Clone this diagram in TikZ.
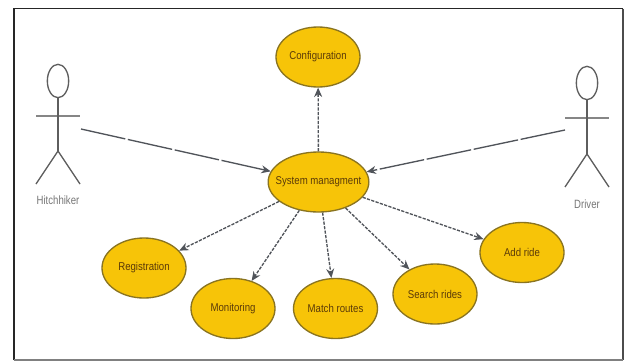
\documentclass[tikz,border=0pt]{standalone}
\usepackage{fontspec}
\setmainfont{Liberation Sans}
\newfontfamily\ucfont[FakeStretch=0.85]{Liberation Sans}
\newfontfamily\actfont[FakeStretch=0.8]{Liberation Sans}
\usetikzlibrary{shapes.geometric,arrows.meta}
\definecolor{ucfill}{HTML}{F7C408}
\definecolor{ucedge}{HTML}{8A7420}
\definecolor{uctext}{HTML}{5A3A08}
\definecolor{lineg}{HTML}{50545A}
\definecolor{actorg}{HTML}{5E5E5E}
\definecolor{labelg}{HTML}{777777}
\newcommand{\uclabel}[1]{\makebox[0pt]{#1}}
\tikzset{
  x=0.75pt,y=-0.75pt,
  usecase/.style={ellipse,draw=ucedge,fill=ucfill,line width=1pt,inner sep=0pt,
    minimum width=63pt,minimum height=45pt,text=uctext,
    font=\ucfont\fontsize{8.5pt}{10pt}\selectfont},
  actorline/.style={draw=actorg,line width=1pt},
  actorarm/.style={draw=actorg!75,line width=2.2pt},
  actorlabel/.style={text=labelg,inner sep=0pt,font=\actfont\fontsize{9pt}{10pt}\selectfont},
  assoc/.style={draw=lineg,line width=1pt,dash pattern=on 34pt off 2pt,-{Stealth[length=7pt,width=6pt]}},
  incl/.style={draw=lineg,line width=1pt,dash pattern=on 2.4pt off 1pt,-{Stealth[length=7pt,width=6pt]}}
}
\begin{document}
\begin{tikzpicture}
\useasboundingbox (0,0) rectangle (624,361);
\fill[white] (0,0) rectangle (624,361);
% frame
\draw[black!85,line width=1.4pt] (14,360) -- (14,8.5) -- (623,8.5);
\draw[black!70,line width=0.8pt] (623,8.5) -- (623,360);
\draw[black!50,line width=0.8pt] (14,360) -- (623,360);
% use cases
\node[usecase,minimum width=75.5pt] (sys) at (318.5,182) {\uclabel{System managment}};
\node[usecase] (conf) at (318,57) {\uclabel{Configuration}};
\node[usecase] (reg) at (144,268) {\uclabel{Registration}};
\node[usecase] (mon) at (233,308.5) {\uclabel{Monitoring}};
\node[usecase] (match) at (335.5,308.5) {\uclabel{Match routes}};
\node[usecase] (search) at (435,294) {\uclabel{Search rides}};
\node[usecase] (add) at (522,252.5) {\uclabel{Add ride}};
% hitchhiker
\node[ellipse,actorline,minimum width=16pt,minimum height=25pt,inner sep=0pt] (hhead) at (58,81) {};
\coordinate (hhip) at (58,151);
\coordinate (hla) at (36,116);
\coordinate (hra) at (80,116);
\coordinate (hll) at (36,184);
\coordinate (hrl) at (80,184);
\coordinate (hhand) at (81,129);
\draw[actorarm] (hla) -- (hra);
\draw[actorline] (hhead) -- (hhip);
\draw[actorline] (hll) -- (hhip) -- (hrl);
\node[actorlabel] (hlabel) at (58,200) {Hitchhiker};
% driver
\node[ellipse,actorline,minimum width=16pt,minimum height=25pt,inner sep=0pt] (dhead) at (587,83) {};
\coordinate (dhip) at (587,154);
\coordinate (dla) at (565,118);
\coordinate (dra) at (609,118);
\coordinate (dll) at (565,187);
\coordinate (drl) at (609,187);
\coordinate (dhand) at (565,130);
\draw[actorarm] (dla) -- (dra);
\draw[actorline] (dhead) -- (dhip);
\draw[actorline] (dll) -- (dhip) -- (drl);
\node[actorlabel] (dlabel) at (587,204) {Driver};
% connectors
\draw[assoc] (hhand) -- (sys);
\draw[assoc] (dhand) -- (sys);
\draw[incl] (sys) -- (conf);
\draw[incl] (sys) -- (reg);
\draw[incl] (sys) -- (mon);
\draw[incl] (sys) -- (match);
\draw[incl] (sys) -- (search);
\draw[incl] (sys) -- (add);
\end{tikzpicture}
\end{document}
